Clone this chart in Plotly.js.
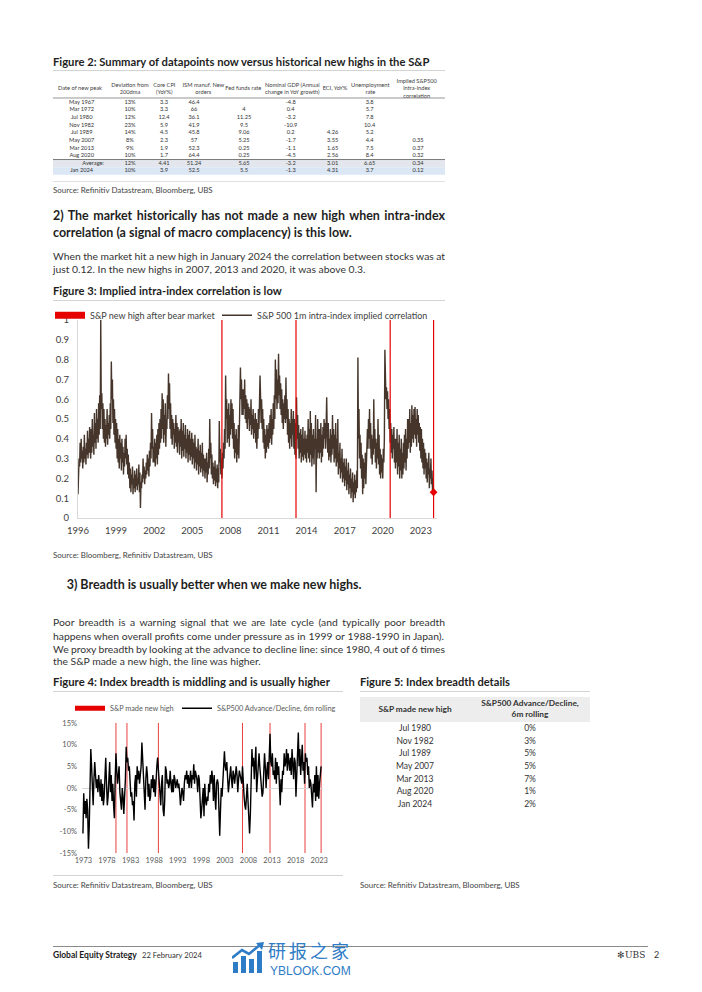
<!DOCTYPE html>
<html><head><meta charset="utf-8">
<script src="https://cdn.plot.ly/plotly-3.0.1.min.js"></script>
<style>
html,body{margin:0;padding:0;background:#fff}
body{width:702px;height:992px;position:relative;overflow:hidden;font-family:Lato,'Liberation Sans',Arial,sans-serif;color:#1e1e1e}
.t{position:absolute;white-space:nowrap;line-height:1.2}
.b{font-weight:700}
.rule{position:absolute;height:0;border-top:1px solid #d4d4d4}
.plot{position:absolute}
</style></head><body>

<div class="t b" data-x="53" data-y="62" data-w="377" style="font-size:12px">Figure 2: Summary of datapoints now versus historical new highs in the S&amp;P</div>
<div class="rule" style="left:53px;top:70px;width:392px"></div>
<div id="tbl2" class="plot" style="left:53px;top:73px;width:392px;height:107px"></div>
<div class="rule" style="left:53px;top:181px;width:392px;border-color:#e0e0e0"></div>
<div class="t" data-g="src" data-ref="1" data-x="53" data-y="190.8" data-w="160" style="font-size:7px;color:#444">Source: Refinitiv Datastream, Bloomberg, UBS</div>

<div class="t b" data-g="h" data-j="1" data-x="53" data-y="216.5" data-w="392" style="font-size:13px">2) The market historically has not made a new high when intra-index</div>
<div class="t b" data-g="h" data-x="53" data-y="233.2" style="font-size:13px">correlation (a signal of macro complacency) is this low.</div>

<div class="t" data-g="p" data-j="1" data-x="53" data-y="255.8" data-w="392" style="font-size:10.5px;color:#333">When the market hit a new high in January 2024 the correlation between stocks was at</div>
<div class="t" data-g="p" data-x="53" data-y="269" style="font-size:10.5px;color:#333">just 0.12. In the new highs in 2007, 2013 and 2020, it was above 0.3.</div>

<div class="t b" data-x="53" data-y="290.8" data-w="229" style="font-size:10.5px">Figure 3: Implied intra-index correlation is low</div>
<div class="rule" style="left:53px;top:300px;width:392px"></div>
<div id="c3" class="plot" style="left:33px;top:305px;width:412px;height:235px"></div>
<div class="t" data-g="src" data-x="53" data-y="556" style="font-size:7px;color:#444">Source: Bloomberg, Refinitiv Datastream, UBS</div>

<div class="t b" data-g="h" data-ref="1" data-x="66.7" data-y="585.8" data-w="295" style="font-size:13px">3) Breadth is usually better when we make new highs.</div>

<div class="t" data-g="p" data-j="1" data-x="53" data-y="622.5" data-w="392" style="font-size:10.5px;color:#333">Poor breadth is a warning signal that we are late cycle (and typically poor breadth</div>
<div class="t" data-g="p" data-j="1" data-x="53" data-y="635.8" data-w="391" style="font-size:10.5px;color:#333">happens when overall profits come under pressure as in 1999 or 1988-1990 in Japan).</div>
<div class="t" data-g="p" data-j="1" data-x="53" data-y="649" data-w="392" style="font-size:10.5px;color:#333">We proxy breadth by looking at the advance to decline line: since 1980, 4 out of 6 times</div>
<div class="t" data-g="p" data-ref="1" data-x="53" data-y="661.5" data-w="208" style="font-size:10.5px;color:#333">the S&amp;P made a new high, the line was higher.</div>

<div class="t b" data-x="53" data-y="681.7" data-w="277" style="font-size:10.5px">Figure 4: Index breadth is middling and is usually higher</div>
<div class="t b" data-x="360" data-y="681.7" data-w="150" style="font-size:10.5px">Figure 5: Index breadth details</div>
<div class="rule" style="left:53px;top:691px;width:290px"></div>
<div class="rule" style="left:360px;top:691px;width:230px"></div>
<div id="c4" class="plot" style="left:33px;top:697px;width:310px;height:176px"></div>
<div id="tbl5" class="plot" style="left:360px;top:692px;width:235px;height:120px"></div>
<div class="rule" style="left:53px;top:875px;width:290px"></div>
<div class="t" data-g="src" data-x="53" data-y="886" style="font-size:7px;color:#444">Source: Refinitiv Datastream, Bloomberg, UBS</div>
<div class="t" data-g="src" data-x="360" data-y="886" style="font-size:7px;color:#444">Source: Refinitiv Datastream, Bloomberg, UBS</div>

<div class="rule" style="left:53px;top:946px;width:595px;border-color:#8a8a8a"></div>
<div class="t b" data-x="53" data-y="955.5" data-w="84" style="font-size:9px;color:#1a1a1a">Global Equity Strategy</div>
<div class="t" data-x="142" data-y="955.5" data-w="60" style="font-size:9px;color:#333">22 February 2024</div>
<div class="t" data-x="617" data-y="955.5" style="font-size:9px;color:#333;font-family:'DejaVu Serif',serif">✻UBS</div>
<div class="t" data-x="654" data-y="955.5" style="font-size:9px;color:#333">2</div>

<svg style="position:absolute;left:232px;top:942px" width="34" height="32" viewBox="0 0 34 32">
  <g fill="#2e7cc6">
    <rect x="1" y="20" width="5" height="11"/>
    <rect x="9" y="14" width="5" height="17"/>
    <rect x="17" y="17" width="5" height="14"/>
    <rect x="25" y="9" width="5" height="22"/>
  </g>
  <polyline points="0,16 10,8 17,12 29,2" fill="none" stroke="#2e7cc6" stroke-width="2.6"/>
  <polygon points="24,1 32,0 30,8" fill="#2e7cc6"/>
</svg>
<div class="t" data-x="268" data-y="950.3" style="font-size:18px;letter-spacing:3px;color:#2e7cc6;font-family:'Noto Sans CJK SC',sans-serif;line-height:1">研报之家</div>
<div class="t" data-x="270" data-y="970.6" style="font-size:12px;color:#2e7cc6;font-family:'Liberation Sans',Arial,sans-serif;line-height:1">YBLOOK.COM</div>

<script>
// ================= DATA =================
// Figure 2 table
const t2Headers = ["Date of new peak","Deviation from<br>200dma","Core CPI<br>(YoY%)","ISM manuf. New<br>orders","Fed funds rate","Nominal GDP (Annual<br>change in YoY growth)","ECI, YoY%","Unemployment<br>rate","Implied S&P500<br>intra-index<br>correlation"];
const peakDates   = ["May 1967","Mar 1972","Jul 1980","Nov 1982","Jul 1989","May 2007","Mar 2013","Aug 2020","Average:","Jan 2024"];
const deviation200 = [13,10,12,23,14,8,9,10,12,10];
const coreCPI     = [3.3,3.3,12.4,5.9,4.5,2.3,1.9,1.7,4.41,3.9];
const ismOrders   = [46.4,66,36.1,41.9,45.8,57,52.3,64.4,51.24,52.5];
const fedFunds    = [null,4,11.25,9.5,9.06,5.25,0.25,0.25,5.65,5.5];
const nominalGDP  = [-4.8,0.4,-3.2,-10.9,0.2,-1.7,-1.1,-4.5,-3.2,-1.3];
const eciYoY      = [null,null,null,null,4.26,3.55,1.65,2.56,3.01,4.31];
const unemployment= [3.8,5.7,7.8,10.4,5.2,4.4,7.5,8.4,6.65,3.7];
const impliedCorr = [null,null,null,null,null,0.35,0.37,0.32,0.34,0.12];

// Figure 3: S&P 500 1m intra-index implied correlation, semi-monthly from Jan 1996
const corrStart = 1996, corrPerYear = 24;
const corrValues = [
0.12,0.22,0.30,0.26,0.38,0.28,0.40,0.30,0.34,0.25,0.36,0.28,0.42,0.30,0.35,0.27,0.38,0.32,0.44,0.30,0.40,0.33,0.46,0.35,
0.30,0.45,0.33,0.50,0.36,0.42,0.32,0.53,0.38,0.48,0.35,0.55,0.40,0.50,0.38,0.58,0.42,0.62,0.45,1.00,0.55,0.63,0.45,0.58,
0.40,0.55,0.38,0.50,0.36,0.47,0.40,0.55,0.37,0.48,0.42,0.52,0.40,0.58,0.45,0.79,0.60,0.70,0.48,0.60,0.42,0.55,0.38,0.50,
0.35,0.48,0.30,0.45,0.28,0.40,0.25,0.42,0.30,0.38,0.24,0.40,0.28,0.36,0.22,0.33,0.26,0.40,0.30,0.42,0.27,0.35,0.22,0.32,
0.20,0.28,0.15,0.25,0.13,0.22,0.17,0.26,0.12,0.20,0.15,0.24,0.13,0.22,0.16,0.25,0.14,0.20,0.17,0.27,0.13,0.23,0.05,0.18,
0.15,0.22,0.18,0.30,0.20,0.26,0.17,0.24,0.20,0.28,0.22,0.32,0.24,0.30,0.21,0.34,0.26,0.38,0.30,0.53,0.35,0.45,0.28,0.36,
0.28,0.40,0.26,0.38,0.30,0.42,0.27,0.45,0.32,0.48,0.35,0.50,0.38,0.55,0.40,0.63,0.45,0.60,0.38,0.52,0.42,0.58,0.36,0.50,
0.45,0.62,0.50,0.73,0.55,0.68,0.45,0.58,0.40,0.52,0.37,0.50,0.42,0.48,0.35,0.45,0.38,0.52,0.36,0.48,0.33,0.46,0.38,0.44,
0.32,0.45,0.36,0.50,0.30,0.44,0.34,0.48,0.31,0.42,0.35,0.47,0.30,0.40,0.33,0.45,0.28,0.42,0.32,0.44,0.29,0.40,0.31,0.43,
0.27,0.40,0.30,0.38,0.25,0.42,0.28,0.36,0.24,0.35,0.27,0.40,0.22,0.34,0.26,0.37,0.23,0.33,0.25,0.38,0.21,0.32,0.24,0.30,
0.20,0.30,0.23,0.33,0.18,0.28,0.22,0.35,0.25,0.50,0.30,0.38,0.22,0.32,0.20,0.28,0.17,0.26,0.19,0.29,0.16,0.25,0.18,0.27,
0.15,0.25,0.18,0.49,0.28,0.35,0.22,0.30,0.20,0.33,0.25,0.38,0.30,0.45,0.35,0.72,0.50,0.60,0.38,0.55,0.40,0.58,0.36,0.52,
0.42,0.60,0.45,0.58,0.40,0.55,0.35,0.48,0.30,0.42,0.33,0.45,0.28,0.40,0.32,0.47,0.30,0.48,0.55,0.76,0.60,0.70,0.52,0.65,
0.52,0.65,0.55,0.70,0.50,0.62,0.48,0.60,0.45,0.58,0.50,0.56,0.44,0.55,0.47,0.60,0.42,0.52,0.45,0.55,0.40,0.50,0.43,0.53,
0.38,0.50,0.35,0.48,0.40,0.55,0.45,0.58,0.72,0.62,0.48,0.60,0.45,0.55,0.38,0.50,0.35,0.45,0.30,0.42,0.33,0.47,0.36,0.45,
0.35,0.48,0.38,0.52,0.40,0.55,0.37,0.50,0.42,0.58,0.45,0.62,0.50,0.80,0.60,0.75,0.55,0.70,0.58,0.83,0.62,0.72,0.55,0.68,
0.52,0.65,0.48,0.60,0.45,0.58,0.50,0.62,0.48,0.71,0.50,0.60,0.42,0.55,0.38,0.50,0.35,0.48,0.40,0.55,0.36,0.50,0.42,0.54,
0.35,0.50,0.32,0.48,0.30,0.61,0.40,0.52,0.35,0.47,0.30,0.43,0.33,0.45,0.28,0.42,0.31,0.46,0.29,0.40,0.32,0.44,0.30,0.40,
0.28,0.42,0.33,0.50,0.30,0.45,0.28,0.54,0.32,0.48,0.26,0.42,0.30,0.45,0.27,0.40,0.35,0.52,0.13,0.40,0.30,0.50,0.33,0.45,
0.30,0.45,0.33,0.48,0.28,0.42,0.31,0.46,0.35,0.50,0.40,0.48,0.35,0.47,0.61,0.43,0.33,0.48,0.29,0.40,0.31,0.45,0.28,0.42,
0.32,0.52,0.35,0.45,0.28,0.42,0.30,0.48,0.26,0.40,0.28,0.50,0.22,0.33,0.25,0.38,0.20,0.30,0.23,0.35,0.18,0.28,0.20,0.30,
0.16,0.26,0.19,0.30,0.14,0.24,0.17,0.28,0.12,0.22,0.15,0.25,0.10,0.20,0.13,0.23,0.08,0.18,0.12,0.22,0.10,0.19,0.13,0.24,
0.15,0.81,0.40,0.55,0.30,0.42,0.25,0.38,0.20,0.32,0.12,0.30,0.15,0.28,0.20,0.33,0.17,0.30,0.25,0.45,0.35,0.50,0.40,0.55,
0.35,0.48,0.30,0.42,0.27,0.40,0.32,0.60,0.35,0.45,0.28,0.40,0.25,0.38,0.30,0.50,0.27,0.42,0.22,0.35,0.20,0.32,0.23,0.30,
0.20,0.35,0.28,0.40,0.85,0.70,0.60,0.66,0.55,0.64,0.50,0.60,0.45,0.55,0.38,0.48,0.33,0.45,0.30,0.42,0.35,0.46,0.28,0.40,
0.25,0.40,0.28,0.45,0.22,0.38,0.26,0.42,0.20,0.35,0.24,0.40,0.20,0.33,0.22,0.38,0.25,0.42,0.28,0.45,0.24,0.40,0.30,0.50,
0.35,0.50,0.38,0.55,0.33,0.48,0.36,0.57,0.40,0.52,0.38,0.55,0.42,0.56,0.40,0.50,0.36,0.55,0.42,0.52,0.38,0.48,0.34,0.46,
0.30,0.45,0.28,0.40,0.25,0.38,0.22,0.35,0.25,0.33,0.20,0.30,0.18,0.28,0.22,0.33,0.15,0.25,0.20,0.30,0.17,0.24,0.14,0.20,
0.13];
const corrNewHighs = ["May 2007","Mar 2013","Aug 2020","Jan 2024"];
const corrYearTicks = [1996,1999,2002,2005,2008,2011,2014,2017,2020,2023];
const corrYTicks = [0,0.1,0.2,0.3,0.4,0.5,0.6,0.7,0.8,0.9,1];

// Figure 4: S&P500 Advance/Decline 6m rolling (%), bi-monthly from Jul 1973
const adStart = 1973.5, adPerYear = 6;
const adValues = [
-10.5,-1.2,-6,
-3,-7,-2.5,-5,-14,-9,
4,9,5,-1,-4,2,
6,3,0,2,-1,3,
1,-2,2,-3,1,-4,
-2,3,7,1,-4,-2,
2,6,-1,3,-3,1,
-4,-7,2,8,4,1,
3,5,-1,-3,-5,0,
-2,-6,-3,2,9.5,6,
7,4,5,1,-2,-1,
-4,-3,-7.5,1,3,-2,
5,2,4,1,3,5,
10.5,6,1,-3,-5,2,
5,3,-2,1,-3,-2,
2,0,3,-1,2,-2,
3,5,7,4,1,-2,
-4,1,3,-5,-6.5,-3,
5,4,1,2,0,1,
4,1,-1,2,-1,3,
2,0,1,2,0,1,
-1,-4,-2,0,-1,-3,
1,3,2,4,1,3,
0,2,4,0,3,2,
5.5,1,4,3,2,-1,
3,2,-3,-7,-5,-2,
0,-6.5,1,-3,-4,-2,
-3,1,-1,3,1,4,
2,-3,3,-2,-5,1,
2,1,-4,-11,-5,0,
-2,3,7,8.5,5,4,
6,3,-1,1,3,5,
2,0,4,3,1,4,
5,3,-1,2,4,3,
2,1,5,0,-2,-4,
-5,-2,1,-3,-8,-10.5,
-6,2,9,5,7,2,
6,9.5,-1,3,6,8,
5,3,1,-2,-1,4,
8,5,0,4,6,2,
7,12.5,6,5,8,3,
4,2,7,1,6,3,
5,1,-4,2,-1,4,
3,8,5,6,9,4,
8,6,4,7,3,9,
5,2,7,6,-2,4,
10,12.8,5,9,3,8,
10,4,6,1,8,6,
7,3,5,0,2,1,
-2,-4.5,1,-1,3,-3,
5,-2,3,-2.5,1,4,
5];
const adYearTicks = [1973,1978,1983,1988,1993,1998,2003,2008,2013,2018,2023];
const adYTicks = [-15,-10,-5,0,5,10,15];

// Figure 5 table
const breadthHighs = ["Jul 1980","Nov 1982","Jul 1989","May 2007","Mar 2013","Aug 2020","Jan 2024"];
const breadthAD    = [0,3,5,5,7,1,2];

// ================= HELPERS =================
const MONTHS = ["Jan","Feb","Mar","Apr","May","Jun","Jul","Aug","Sep","Oct","Nov","Dec"];
const toDec = s => { const [m,y] = s.split(" "); return +y + MONTHS.indexOf(m)/12; };
const FONT = "Lato, 'Liberation Sans', Arial, sans-serif";
const RED = "#E60000";
const cfg = {staticPlot:true, displayModeBar:false};
const fmt = v => (v === null || v === undefined) ? "" : String(v);

// ================= TEXT LAYOUT =================
function fitFont(el, w){
  const fs0 = parseFloat(getComputedStyle(el).fontSize);
  const nat = el.getBoundingClientRect().width;
  const fs = fs0 * w / nat;
  el.style.fontSize = fs + "px";
  return fs;
}
function layoutText(){
  const els = [...document.querySelectorAll(".t")];
  els.forEach(el => { el.style.left = el.dataset.x + "px"; el.style.top = "0px"; });
  const groups = {};
  els.forEach(el => {
    if (el.dataset.g) (groups[el.dataset.g] = groups[el.dataset.g] || []).push(el);
    else if (el.dataset.w) fitFont(el, +el.dataset.w);
  });
  for (const g in groups){
    const arr = groups[g]; const ref = arr.find(e => e.dataset.ref);
    if (ref){ const fs = fitFont(ref, +ref.dataset.w); arr.forEach(e => e.style.fontSize = fs + "px"); }
  }
  els.forEach(el => {
    if (el.dataset.j){
      el.style.wordSpacing = "0px";
      const nat = el.getBoundingClientRect().width;
      const n = (el.textContent.match(/ /g) || []).length;
      el.style.wordSpacing = ((+el.dataset.w - nat) / n) + "px";
    }
  });
  els.forEach(el => { const h = el.getBoundingClientRect().height; el.style.top = (+el.dataset.y - h/2) + "px"; });
}
layoutText();

// ================= FIGURE 2 TABLE =================
(function(){
  const hdrX = [80,130,164.3,203.3,243.3,292.3,335,370.3,416.7];
  const colX = [81.7,130,164,194,244,290.7,332.7,369.7,418];
  const hdrY = 88.8, rowY0 = 102.3, rowStep = 7.63;
  const cols = [peakDates, deviation200.map(v => v + "%"), coreCPI, ismOrders, fedFunds, nominalGDP, eciYoY, unemployment, impliedCorr];
  const traces = [{
    type:"scatter", mode:"text", x:hdrX, y:hdrX.map(() => hdrY), text:t2Headers,
    textfont:{family:FONT, size:5.7, color:"#404040"}, textposition:"middle center", cliponaxis:false, hoverinfo:"skip"
  }];
  cols.forEach((col, c) => {
    const isAvg = i => c === 0 && peakDates[i] === "Average:";
    traces.push({
      type:"scatter", mode:"text",
      x: col.map((_, i) => isAvg(i) ? 104 : colX[c]),
      y: col.map((_, i) => rowY0 + i*rowStep),
      text: col.map(fmt),
      textposition: col.map((_, i) => isAvg(i) ? "middle left" : "middle center"),
      textfont:{family:FONT, size:5.7, color:"#333"}, cliponaxis:false, hoverinfo:"skip"
    });
  });
  const avgIdx = peakDates.indexOf("Average:");
  const yTop = i => rowY0 + (i - 0.5)*rowStep;
  const shapes = [
    {type:"rect", xref:"x", yref:"y", x0:53, x1:445, y0:yTop(avgIdx), y1:yTop(avgIdx+1), fillcolor:"#e3e7ed", line:{width:0}, layer:"below"},
    {type:"rect", xref:"x", yref:"y", x0:53, x1:445, y0:yTop(avgIdx+1), y1:yTop(avgIdx+2), fillcolor:"#dbe7f5", line:{width:0}, layer:"below"},
    {type:"line", xref:"x", yref:"y", x0:53, x1:445, y0:yTop(0)-0.5, y1:yTop(0)-0.5, line:{color:"#7a7a7a", width:0.8}},
    {type:"line", xref:"x", yref:"y", x0:53, x1:445, y0:yTop(avgIdx), y1:yTop(avgIdx), line:{color:"#5a5a5a", width:0.8}}
  ];
  Plotly.newPlot("tbl2", traces, {
    width:392, height:107, margin:{l:0,r:0,t:0,b:0, autoexpand:false},
    paper_bgcolor:"rgba(0,0,0,0)", plot_bgcolor:"rgba(0,0,0,0)", showlegend:false,
    xaxis:{range:[53,445], visible:false, fixedrange:true},
    yaxis:{range:[180,73], visible:false, fixedrange:true},
    shapes
  }, cfg);
})();

// ================= FIGURE 3 =================
(function(){
  const x = corrValues.map((_, i) => corrStart + i/corrPerYear);
  const highs = corrNewHighs.map(toDec);
  const last = corrValues.length - 1;
  const traces = [
    {type:"scatter", mode:"lines", x:[null], y:[null], name:"S&P new high after bear market",
     line:{color:RED, width:7}, legendwidth:122, hoverinfo:"skip"},
    {type:"scatter", mode:"lines", x, y:corrValues, name:"S&P 500 1m intra-index implied correlation",
     line:{color:"#45352a", width:1.4}, hoverinfo:"skip"},
    {type:"scatter", mode:"markers", x:[x[last]], y:[corrValues[last]], showlegend:false,
     marker:{color:RED, size:6, symbol:"diamond"}, cliponaxis:false, hoverinfo:"skip"}
  ];
  Plotly.newPlot("c3", traces, {
    width:412, height:235, margin:{l:45,r:8,t:15,b:22, pad:0, autoexpand:false},
    paper_bgcolor:"rgba(0,0,0,0)", plot_bgcolor:"rgba(0,0,0,0)",
    font:{family:FONT, size:9.5, color:"#404040"},
    showlegend:true,
    legend:{orientation:"h", x:-28/359, xanchor:"left", y:1+4.7/198, yanchor:"middle",
            bgcolor:"rgba(0,0,0,0)", font:{family:FONT, size:9, color:"#404040"}, traceorder:"normal"},
    xaxis:{range:[1996, 2024.27], tickmode:"array", tickvals:corrYearTicks, ticktext:corrYearTicks.map(String),
           showgrid:false, zeroline:false, showline:true, linecolor:"#d9d9d9", linewidth:1, ticks:"",
           ticklabelstandoff:4, tickfont:{size:9.5, color:"#404040"}},
    yaxis:{range:[0,1], tickmode:"array", tickvals:corrYTicks, ticktext:corrYTicks.map(String),
           showgrid:false, zeroline:false, showline:true, linecolor:"#d9d9d9", linewidth:1, ticks:"",
           ticklabelstandoff:6, tickfont:{size:9.5, color:"#404040"}},
    shapes: highs.map(d => ({type:"line", xref:"x", yref:"paper", x0:d, x1:d, y0:0, y1:1,
             line:{color:RED, width:1.2}, layer:"above"}))
  }, cfg);
})();

// ================= FIGURE 4 =================
(function(){
  const x = adValues.map((_, i) => adStart + i/adPerYear);
  const highs = breadthHighs.map(toDec);
  const traces = [
    {type:"scatter", mode:"lines", x:[null], y:[null], name:"S&P made new high",
     line:{color:RED, width:5}, legendwidth:62, hoverinfo:"skip"},
    {type:"scatter", mode:"lines", x, y:adValues, name:"S&P500 Advance/Decline, 6m rolling",
     line:{color:"#000", width:1.4}, hoverinfo:"skip"}
  ];
  Plotly.newPlot("c4", traces, {
    width:310, height:176, margin:{l:49,r:20,t:26,b:20, pad:0, autoexpand:false},
    paper_bgcolor:"rgba(0,0,0,0)", plot_bgcolor:"rgba(0,0,0,0)",
    font:{family:FONT, size:7.5, color:"#595959"},
    showlegend:true,
    legend:{orientation:"h", x:-12/241, xanchor:"left", y:1+14.7/130, yanchor:"middle",
            bgcolor:"rgba(0,0,0,0)", font:{family:FONT, size:7.3, color:"#595959"}, traceorder:"normal"},
    xaxis:{range:[1973.3, 2024.4], tickmode:"array", tickvals:adYearTicks.map(y => y + 0.6), ticktext:adYearTicks.map(String),
           showgrid:false, zeroline:false, showline:false, ticks:"", ticklabelstandoff:1, tickfont:{size:7.5, color:"#595959"}},
    yaxis:{range:[-15,15], tickmode:"array", tickvals:adYTicks, ticktext:adYTicks.map(v => v + "%"),
           showgrid:false, zeroline:true, zerolinecolor:"#d9d9d9", zerolinewidth:1, showline:false, ticks:"",
           ticklabelstandoff:4, tickfont:{size:7.5, color:"#595959"}},
    shapes: highs.map(d => ({type:"line", xref:"x", yref:"paper", x0:d, x1:d, y0:0, y1:1,
             line:{color:RED, width:1}, opacity:0.75, layer:"below"}))
  }, cfg);
})();

// ================= FIGURE 5 TABLE =================
(function(){
  const colX = [415, 530];
  const hdrY = 709.7, rowY0 = 729, rowStep = 12.6;
  const headers = ["<b>S&P made new high</b>", "<b>S&P500 Advance/Decline,</b><br><b>6m rolling</b>"];
  const cols = [breadthHighs, breadthAD.map(v => v + "%")];
  const traces = [{
    type:"scatter", mode:"text", x:colX, y:colX.map(() => hdrY), text:headers,
    textfont:{family:FONT, size:8.3, color:"#333"}, textposition:"middle center", cliponaxis:false, hoverinfo:"skip"
  }];
  cols.forEach((col, c) => traces.push({
    type:"scatter", mode:"text", x:col.map(() => colX[c]), y:col.map((_, i) => rowY0 + i*rowStep),
    text:col, textfont:{family:FONT, size:8.5, color:"#333"}, textposition:"middle center", cliponaxis:false, hoverinfo:"skip"
  }));
  Plotly.newPlot("tbl5", traces, {
    width:235, height:120, margin:{l:0,r:0,t:0,b:0, autoexpand:false},
    paper_bgcolor:"rgba(0,0,0,0)", plot_bgcolor:"rgba(0,0,0,0)", showlegend:false,
    xaxis:{range:[360,595], visible:false, fixedrange:true},
    yaxis:{range:[812,692], visible:false, fixedrange:true},
    shapes:[{type:"rect", xref:"x", yref:"y", x0:360, x1:590, y0:697, y1:722, fillcolor:"#ededed", line:{width:0}, layer:"below"}]
  }, cfg);
})();
</script>
</body></html>
